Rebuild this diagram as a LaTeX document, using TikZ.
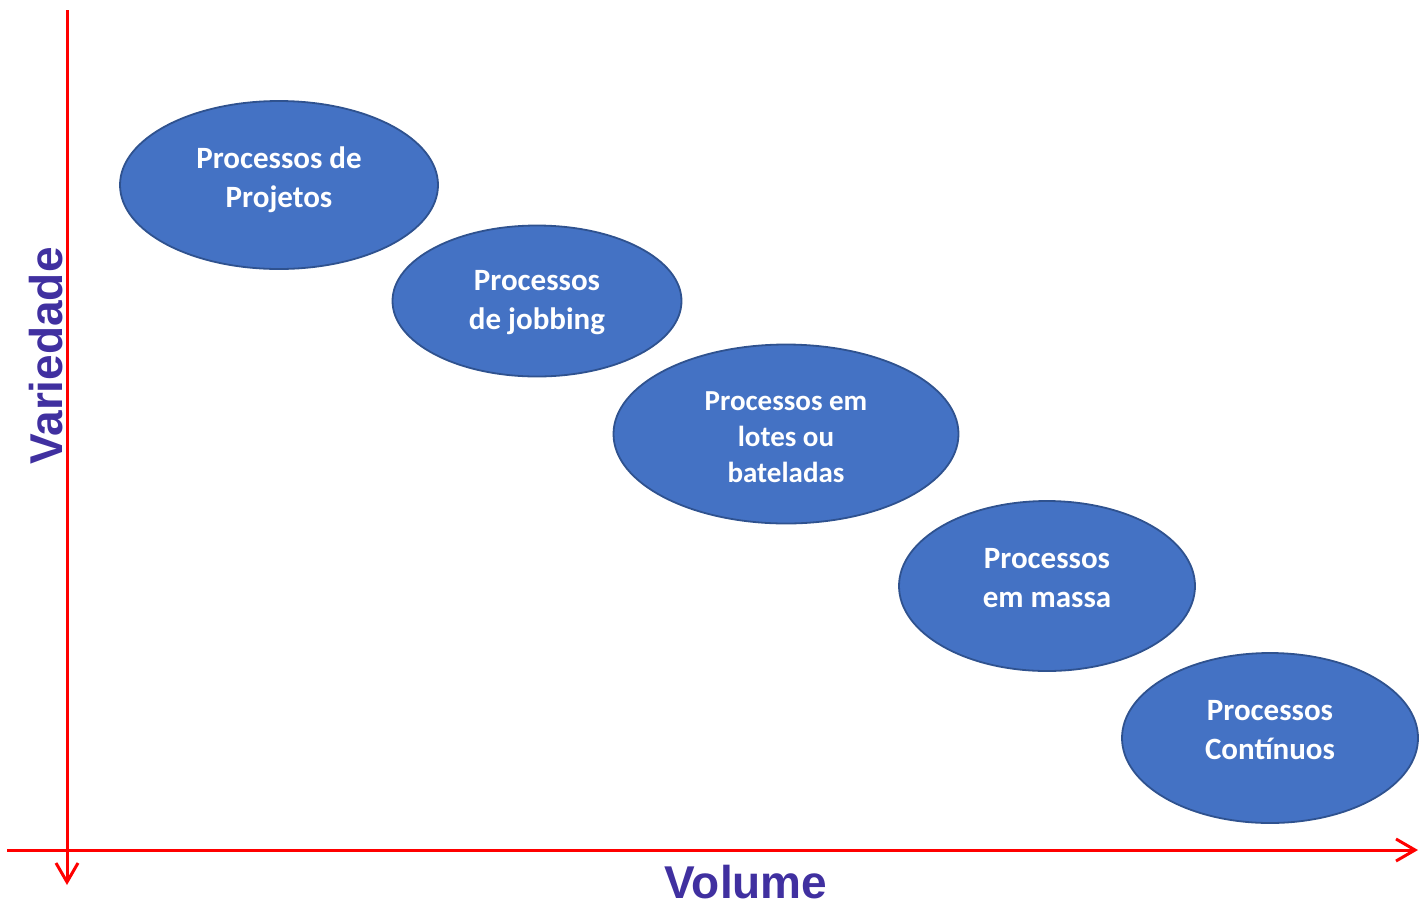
\documentclass[tikz,border=0pt]{standalone}
\usepackage{fontspec}
\setmainfont{Carlito}
\newfontfamily\axisfont{Liberation Sans}
\usetikzlibrary{arrows.meta,shapes.geometric}
\definecolor{ellfill}{HTML}{4472C4}
\definecolor{elldraw}{HTML}{2F528F}
\definecolor{axislab}{RGB}{64,48,160}
\definecolor{axisred}{RGB}{255,0,0}
\tikzset{
  proc/.style={ellipse, fill=ellfill, draw=elldraw, line width=1.8pt, inner sep=0pt},
  proctext/.style={text=white, font=\fontsize{31}{39}\selectfont\bfseries, align=center, inner sep=0pt},
  axisline/.style={draw=axisred, line width=3pt,
    -{Straight Barb[length=19pt,width=22pt,line width=3pt]}},
  axistext/.style={text=axislab, font=\axisfont\fontsize{46}{50}\selectfont\bfseries, inner sep=0pt}
}
\begin{document}
\begin{tikzpicture}[x=1pt,y=-1pt]
\useasboundingbox (0,0) rectangle (1427,906);
\coordinate (ytop) at (67,10);
\coordinate (ybot) at (67,885);
\coordinate (xl) at (7,850);
\coordinate (xr) at (1418,850);
\draw[axisline] (ytop) -- (ybot);
\draw[axisline] (xl) -- (xr);
\node[proc, minimum width=318pt, minimum height=168pt] (p1) at (279,185) {};
\node[proc, minimum width=289pt, minimum height=151pt] (p2) at (537,301) {};
\node[proc, minimum width=345pt, minimum height=179pt] (p3) at (786,434) {};
\node[proc, minimum width=296pt, minimum height=170pt] (p4) at (1047,586) {};
\node[proc, minimum width=296pt, minimum height=170pt] (p5) at (1270,738) {};
\node[proctext] (t1) at (279,180) {Processos de\\Projetos};
\node[proctext] (t2) at (537,302.5) {Processos\\de jobbing};
\node[proctext, font=\fontsize{29}{36}\selectfont\bfseries] (t3) at (786,437.5) {Processos em\\lotes ou\\bateladas};
\node[proctext] (t4) at (1047,578) {Processos\\em massa};
\node[proctext] (t5) at (1270,730) {Processos\\Contínuos};
\node[axistext, rotate=90, anchor=center] (vy) at (46,356) {Variedade};
\node[axistext, anchor=center] (vx) at (746,882) {Volume};
\end{tikzpicture}
\end{document}
